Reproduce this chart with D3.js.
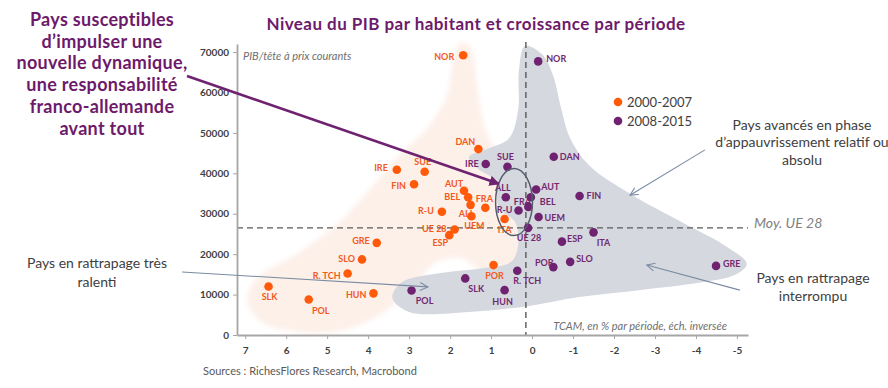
<!DOCTYPE html>
<html>
<head>
<meta charset="utf-8">
<script src="https://cdn.jsdelivr.net/npm/d3@7/dist/d3.min.js"></script>
<style>
    body { margin: 0; background: #fff; }
    svg { display: block; font-family: Lato, "Open Sans", sans-serif; }
</style>
</head>
<body>
<svg id="chart" width="888" height="388"></svg>
<script>
(function() {
    // --- data ---
    const countries = ["NOR", "DAN", "IRE", "SUE", "FIN", "AUT", "BEL", "ALL", "FRA", "R-U", "UEM",
        "UE 28", "ESP", "ITA", "GRE", "SLO", "POR", "R. TCH", "HUN", "SLK", "POL"];

    // TCAM (% per period) and PIB/tete, 2000-2007
    const growth0007 = [1.68, 1.31, 3.30, 2.62, 2.88, 1.66, 1.56, 1.50, 1.14, 2.20, 1.48,
        1.89, 2.02, 0.67, 3.79, 4.15, 0.94, 4.50, 3.87, 6.43, 5.45];
    const gdp0007 = [69200, 46000, 40900, 40400, 37300, 35700, 34100, 32200, 31500, 30500, 29400,
        26100, 24700, 28700, 22800, 18700, 17300, 15200, 10300, 12000, 8800];

    // same for 2008-2015
    const growth0815 = [-0.15, -0.53, 1.13, 0.60, -1.16, -0.10, 0.03, 0.64, 0.09, 0.33, -0.16,
        0.10, -0.73, -1.50, -4.49, -0.93, -0.52, 0.36, 0.67, 1.63, 2.94];
    const gdp0815 = [67700, 44100, 42300, 41600, 34400, 36000, 34100, 34100, 31700, 30800, 29200,
        26500, 23100, 25400, 17100, 18100, 16800, 15900, 11100, 14000, 11000];

    const periods = ["2000-2007", "2008-2015"];

    // UE 28 average reference lines
    const avgGrowth = 0.15;
    const avgGdp = 26500;

    const xTicks = [7, 6, 5, 4, 3, 2, 1, 0, -1, -2, -3, -4, -5];
    const yTicks = [0, 10000, 20000, 30000, 40000, 50000, 60000, 70000];

    // hand drawn zones, in data units [growth, gdp]
    const peachZone = [[1.71, 72500], [1.49, 71000], [1.34, 61800], [1.17, 51900], [0.88, 45700],
        [0.51, 40800], [0.32, 33400], [0.27, 23500], [0.39, 16600], [0.80, 13600], [1.24, 15600],
        [1.73, 19000], [2.32, 18100], [2.88, 12400], [3.61, 5700], [4.59, 1200], [5.68, 700],
        [6.61, 3200], [6.95, 8700], [6.71, 14100], [5.68, 20500], [4.71, 27900], [4.02, 35400],
        [3.24, 44500], [2.56, 51200], [2.07, 59400], [1.90, 69200]];
    const greyZone = [[0.17, 71500], [-0.24, 69500], [-0.51, 64300], [-0.71, 56100], [-0.93, 48700],
        [-1.39, 42000], [-2.37, 35100], [-3.66, 27900], [-4.76, 21800], [-5.24, 17600], [-5.00, 15100],
        [-4.07, 12900], [-2.61, 11100], [-1.15, 9400], [0.07, 7200], [1.54, 5700], [3.00, 5700],
        [3.41, 9200], [3.17, 13100], [2.27, 15300], [1.17, 16600], [0.51, 18100], [0.34, 22300],
        [0.41, 27900], [0.80, 31400], [0.93, 38300], [1.34, 41300], [1.54, 44000], [1.05, 46200],
        [0.56, 48700], [0.34, 55600], [0.32, 65500]];

    // ellipse around the franco-german pair, and annotation arrows (data units)
    const focusCenter = [0.44, 32900];
    const focusRadius = [0.45, 8300];
    const mainArrow = [[8.42, 64100], [0.81, 37400]];
    const thinArrows = [
        [[8.54, 15600], [2.54, 11900]],
        [[-4.22, 45800], [-2.39, 34600]],
        [[-5.07, 11100], [-2.80, 17300]]
    ];

    // label placement: [anchor, dx, dy] from dot centre
    const labelLayout0007 = {
        "NOR": ["end", -9, 1], "DAN": ["middle", -13, -7], "IRE": ["end", -9, -2],
        "SUE": ["middle", -2, -10], "FIN": ["end", -8, 2], "AUT": ["middle", -10, -7],
        "BEL": ["end", -8, 0], "ALL": ["middle", -4, 9], "FRA": ["middle", -1, -9],
        "R-U": ["end", -8, -1], "UEM": ["middle", 3, 10], "UE 28": ["end", -8, -1],
        "ESP": ["middle", -9, 8], "ITA": ["middle", 0, 11], "GRE": ["end", -7, -2],
        "SLO": ["end", -7, -1], "POR": ["middle", 1, 11], "R. TCH": ["end", -7, 2],
        "HUN": ["end", -7, 1], "SLK": ["middle", 1, 10], "POL": ["middle", 12, 11]
    };
    const labelLayout0815 = {
        "NOR": ["start", 8, -3], "DAN": ["start", 6, 0], "IRE": ["end", -7, 0],
        "SUE": ["middle", -2, -10], "FIN": ["start", 7, 0], "AUT": ["start", 5, -3],
        "BEL": ["start", 9, 5], "ALL": ["middle", -3, -9], "FRA": ["middle", -6, -5],
        "R-U": ["end", -6, -1], "UEM": ["start", 6, 1], "UE 28": ["middle", 1, 10],
        "ESP": ["start", 5, -3], "ITA": ["middle", 10, 10], "GRE": ["start", 7, -2],
        "SLO": ["start", 6, -3], "POR": ["middle", -9, -4], "R. TCH": ["middle", 10, 10],
        "HUN": ["middle", -2, 12], "SLK": ["middle", 11, 10], "POL": ["middle", 13, 10]
    };

    const orange = "#ff5a0a", orangeText = "#f25a1c";
    const purple = "#6f2270", purpleText = "#74296f";
    const greyText = "#404040";

    let svg = d3.select("#chart");

    let x = d3.scaleLinear().domain([7.2, -5.27]).range([237, 748]);
    let y = d3.scaleLinear().domain([0, 72000]).range([335, 44]);

    let defs = svg.append("defs");
    defs.append("filter").attr("id", "soft")
        .append("feGaussianBlur").attr("stdDeviation", 2.5);
    defs.append("marker").attr("id", "headMain")
        .attr("viewBox", "0 0 10 10").attr("refX", 9).attr("refY", 5)
        .attr("markerWidth", 4).attr("markerHeight", 4).attr("orient", "auto")
        .append("path").attr("d", "M0,0L10,5L0,10z").attr("fill", purple);
    defs.append("marker").attr("id", "headThin")
        .attr("viewBox", "0 0 10 10").attr("refX", 9).attr("refY", 5)
        .attr("markerWidth", 9).attr("markerHeight", 9).attr("orient", "auto")
        .append("path").attr("d", "M1,1L9,5L1,9").attr("fill", "none")
        .attr("stroke", "#7a8ba3").attr("stroke-width", 1.1);

    let zoneLine = d3.line()
        .x(d => x(d[0])).y(d => y(d[1]))
        .curve(d3.curveCatmullRomClosed.alpha(0.5));

    svg.append("path").attr("d", zoneLine(peachZone))
        .attr("fill", "#fdf0e9").attr("filter", "url(#soft)");
    svg.append("path").attr("d", zoneLine(greyZone))
        .attr("fill", "#d5d8df");

    // reference dashed lines
    svg.append("line")
        .attr("x1", x.range()[0]).attr("x2", x.range()[1])
        .attr("y1", y(avgGdp)).attr("y2", y(avgGdp))
        .attr("stroke", "#595959").attr("stroke-width", 1.4).attr("stroke-dasharray", "6,4");
    svg.append("line")
        .attr("x1", x(avgGrowth)).attr("x2", x(avgGrowth))
        .attr("y1", y.range()[1] - 2).attr("y2", y.range()[0])
        .attr("stroke", "#595959").attr("stroke-width", 1.4).attr("stroke-dasharray", "6,4");

    // axes
    let yAxis = svg.append("g").attr("transform", `translate(${x.range()[0]},0)`)
        .call(d3.axisLeft(y).tickValues(yTicks).tickSize(4).tickPadding(4).tickSizeOuter(0)
            .tickFormat(d3.format("d")));
    let xAxis = svg.append("g").attr("transform", `translate(0,${y.range()[0]})`)
        .call(d3.axisBottom(x).tickValues(xTicks).tickSize(4).tickPadding(8).tickSizeOuter(0)
            .tickFormat(d => String(d)));
    [xAxis, yAxis].forEach(ax => {
        ax.select(".domain").attr("stroke", "#a6a6a6").attr("stroke-width", 1.8);
        ax.selectAll(".tick line").attr("stroke", "#a6a6a6");
        ax.selectAll(".tick text").attr("fill", greyText)
            .style("font-family", "Lato, sans-serif").style("font-size", "10px").style("font-weight", "bold");
    });

    // points
    let series = [
        {growth: growth0007, gdp: gdp0007, layout: labelLayout0007, fill: orange, text: orangeText},
        {growth: growth0815, gdp: gdp0815, layout: labelLayout0815, fill: purple, text: purpleText}
    ];

    series.forEach(s => {
        let pts = countries.map((c, i) => ({name: c, gx: s.growth[i], gy: s.gdp[i]}));
        svg.append("g").selectAll("text").data(pts).join("text")
            .attr("x", d => x(d.gx) + s.layout[d.name][1])
            .attr("y", d => y(d.gy) + s.layout[d.name][2] + 3.2)
            .attr("text-anchor", d => s.layout[d.name][0])
            .attr("fill", s.text)
            .style("font-size", "9px").style("font-weight", "bold")
            .text(d => d.name);
    });
    series.forEach(s => {
        let pts = countries.map((c, i) => ({name: c, gx: s.growth[i], gy: s.gdp[i]}));
        svg.append("g").selectAll("circle").data(pts).join("circle")
            .attr("cx", d => x(d.gx)).attr("cy", d => y(d.gy))
            .attr("r", 4.3).attr("fill", s.fill);
    });

    // focus ellipse + arrows
    svg.append("ellipse")
        .attr("cx", x(focusCenter[0])).attr("cy", y(focusCenter[1]))
        .attr("rx", Math.abs(x(focusRadius[0]) - x(0)))
        .attr("ry", Math.abs(y(focusRadius[1]) - y(0)))
        .attr("fill", "none").attr("stroke", "#555c6b").attr("stroke-width", 1.5);

    svg.append("line")
        .attr("x1", x(mainArrow[0][0])).attr("y1", y(mainArrow[0][1]))
        .attr("x2", x(mainArrow[1][0])).attr("y2", y(mainArrow[1][1]))
        .attr("stroke", purple).attr("stroke-width", 2.6)
        .attr("marker-end", "url(#headMain)");

    svg.append("g").selectAll("line").data(thinArrows).join("line")
        .attr("x1", d => x(d[0][0])).attr("y1", d => y(d[0][1]))
        .attr("x2", d => x(d[1][0])).attr("y2", d => y(d[1][1]))
        .attr("stroke", "#7a8ba3").attr("stroke-width", 1.1)
        .attr("marker-end", "url(#headThin)");

    // legend
    let legend = svg.append("g").attr("transform", "translate(618,102)");
    periods.forEach((p, i) => {
        legend.append("circle").attr("cx", 0).attr("cy", i * 19).attr("r", 4.3)
            .attr("fill", i === 0 ? orange : purple);
        legend.append("text").attr("x", 9).attr("y", i * 19 + 4.5)
            .attr("fill", greyText).style("font-size", "13px").text(p);
    });

    // texts
    svg.append("text").attr("x", 476).attr("y", 29.5).attr("text-anchor", "middle")
        .attr("fill", "#6d1a6b").style("font-size", "17px").style("font-weight", "bold")
        .style("letter-spacing", "0.45px")
        .text("Niveau du PIB par habitant et croissance par période");

    let multiline = (lines, cx, y0, step, style) => {
        let t = svg.append("text").attr("text-anchor", "middle");
        Object.keys(style).forEach(k => t.style(k, style[k]));
        lines.forEach((l, i) => t.append("tspan").attr("x", cx).attr("y", y0 + i * step).text(l));
        return t;
    };

    multiline(["Pays susceptibles", "d’impulser une", "nouvelle dynamique,",
        "une responsabilité", "franco-allemande", "avant tout"], 102, 26, 21.7,
        {"font-size": "18px", "font-weight": "bold", "fill": "#6d1a6b", "letter-spacing": "0.3px"});

    multiline(["Pays avancés en phase", "d’appauvrissement relatif ou", "absolu"], 802, 129.5, 17.7,
        {"font-size": "14px", "fill": "#404040"});
    multiline(["Pays en rattrapage", "interrompu"], 813, 283, 18,
        {"font-size": "14px", "fill": "#404040"});
    multiline(["Pays en rattrapage très", "ralenti"], 97, 268, 18.5,
        {"font-size": "14px", "fill": "#404040"});

    svg.append("text").attr("x", 754).attr("y", 228)
        .attr("fill", "#7f7f7f").style("font-size", "14px").style("font-style", "italic")
        .text("Moy. UE 28");
    svg.append("text").attr("x", 243).attr("y", 60)
        .attr("fill", "#6f6f6f").style("font-size", "11px").style("font-style", "italic")
        .text("PIB/tête à prix courants");
    svg.append("text").attr("x", 727).attr("y", 329.5).attr("text-anchor", "end")
        .attr("fill", "#6f6f6f").style("font-size", "11px").style("font-style", "italic")
        .text("TCAM, en % par période, éch. inversée");
    svg.append("text").attr("x", 203).attr("y", 375)
        .attr("fill", "#595959").style("font-size", "11px")
        .text("Sources : RichesFlores Research, Macrobond");
})();
</script>
</body>
</html>
